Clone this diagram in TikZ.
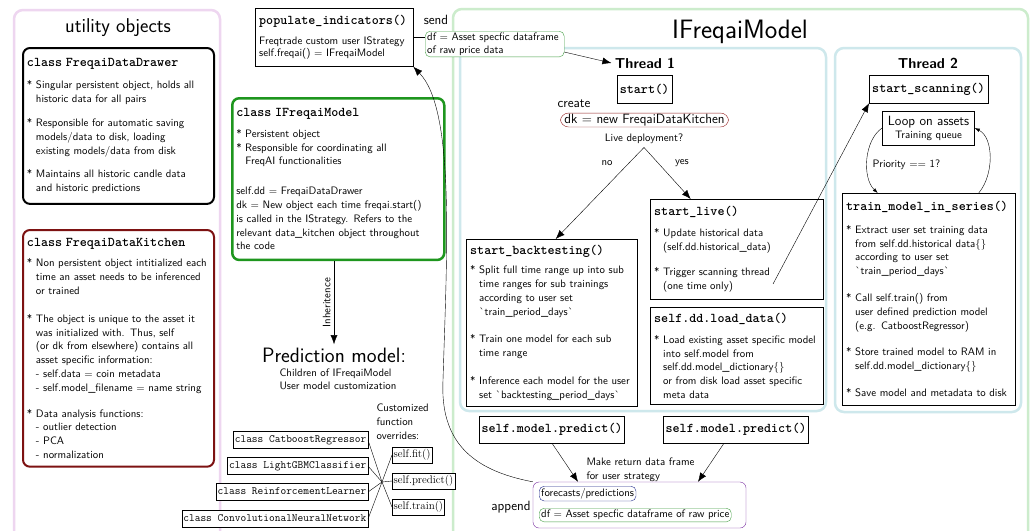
\documentclass[tikz,border=0pt]{standalone}
\usetikzlibrary{arrows.meta}
\renewcommand{\familydefault}{\sfdefault}
\definecolor{utilpink}{RGB}{238,214,240}
\definecolor{modelgreen}{RGB}{204,236,204}
\definecolor{threadblue}{RGB}{206,232,236}
\definecolor{classgreen}{RGB}{30,150,30}
\definecolor{kitchenred}{RGB}{125,18,18}
\definecolor{dkred}{RGB}{150,35,35}
\definecolor{dfgreen}{RGB}{70,160,70}
\definecolor{outpurple}{RGB}{120,45,160}
\definecolor{forecastblue}{RGB}{35,45,140}
\newcommand{\bodyfont}{\fontsize{10.8}{13.8}\selectfont}
\newcommand{\tagfont}{\fontsize{13.4}{15}\selectfont}
\newcommand{\titlett}{\ttfamily\bfseries\fontsize{13.4}{15}\selectfont}
\newcommand{\smalltt}{\ttfamily\fontsize{11.1}{13}\selectfont}
\newcommand{\smallrm}{\rmfamily\fontsize{11}{13}\selectfont}
\newcommand{\cont}{\hphantom{*\ }}
\newcommand{\btick}{\textasciigrave}
\begin{document}
\begin{tikzpicture}[x=1pt, y=-1pt, >={Latex[length=9pt,width=7pt]},
  panel/.style={line width=2.5pt, rounded corners=9pt},
  infobox/.style={draw, fill=white, anchor=north west, align=left, font=\bodyfont, inner xsep=4pt, inner ysep=7pt},
  heavybox/.style={infobox, line width=2pt, rounded corners=7pt},
  plainbox/.style={draw, fill=white, font=\titlett, inner xsep=3pt, minimum height=28pt},
  modelbox/.style={draw, fill=white, font=\smalltt, inner xsep=1.5pt, inner ysep=4pt, text height=7pt, text depth=2pt, anchor=east},
  overridebox/.style={draw, fill=white, font=\smallrm, inner xsep=1.5pt, inner ysep=3pt, text height=8pt, text depth=2.5pt, anchor=west},
  pill/.style={draw, fill=white, rounded corners=5pt, font=\bodyfont, anchor=north west, inner xsep=2pt, inner ysep=2pt},
  tag/.style={font=\tagfont},
  note/.style={font=\bodyfont, align=left}]

\useasboundingbox (0,0) rectangle (1033,530);
\clip (0,0) rectangle (1033,530);
\fill[white] (0,0) rectangle (1033,530);

% panels
\draw[panel, utilpink] (14,10) rectangle (220,560);
\draw[panel, modelgreen] (453,9) rectangle (1028,560);
\draw[panel, threadblue] (460,48) rectangle (826,411);
\draw[panel, threadblue] (835,48) rectangle (1021,412);

\node[font=\fontsize{20}{24}\selectfont] (utiltitle) at (118,28) {utility objects};
\node[font=\fontsize{26.6}{30}\selectfont] (modeltitle) at (740,32) {IFreqaiModel};
\node[font=\bfseries\fontsize{14.4}{16}\selectfont] (thread1) at (645,63) {Thread 1};
\node[font=\bfseries\fontsize{14.4}{16}\selectfont] (thread2) at (928,63) {Thread 2};

% utility objects
\node[heavybox, inner ysep=10pt, text width=183pt] (drawer) at (22,47) {{\titlett class FreqaiDataDrawer}\\[9pt]
  * Singular persistent object, holds all\\
  \cont historic data for all pairs\\[10pt]
  * Responsible for automatic saving\\
  \cont models/data to disk, loading\\
  \cont existing models/data from disk\\[10pt]
  * Maintains all historic candle data\\
  \cont and historic predictions};
\node[heavybox, draw=kitchenred, inner ysep=8pt, text width=183pt] (kitchen) at (22,229) {{\titlett class FreqaiDataKitchen}\\[7pt]
  * Non persistent object intitialized each\\
  \cont time an asset needs to be inferenced\\
  \cont or trained\\[14pt]
  * The object is unique to the asset it\\
  \cont was initialized with. Thus, self\\
  \cont (or dk from elsewhere) contains all\\
  \cont asset specific information:\\
  \cont - self.data = coin metadata\\
  \cont - self.model\_filename = name string\\[12pt]
  * Data analysis functions:\\
  \cont - outlier detection\\
  \cont - PCA\\
  \cont - normalization};

% strategy side
\node[infobox, font=\fontsize{10.8}{12.7}\selectfont, text width=150pt] (populate) at (255,8) {{\titlett populate\_indicators()}\\[7pt]
  Freqtrade custom user IStrategy\\
  self.freqai() = IFreqaiModel};
\node[heavybox, draw=classgreen, line width=2.5pt, inner ysep=10pt, text width=204pt] (imodel) at (231,97) {{\titlett class IFreqaiModel}\\[7pt]
  * Persistent object\\
  {*} Responsible for coordinating all\\
  \cont FreqAI functionalities\\[16pt]
  self.dd = FreqaiDataDrawer\\
  dk = New object each time freqai.start()\\
  is called in the IStrategy. Refers to the\\
  relevant data\_kitchen object throughout\\
  the code};

\node[tag] (sendlbl) at (436,20) {send};
\node[pill, draw=dfgreen, inner ysep=1.5pt, text width=135pt, align=left, font=\fontsize{10.8}{13}\selectfont] (dfsend) at (425,31) {df = Asset specfic dataframe\\of raw price data};
\draw (populate.east) -- (dfsend.west |- populate.east);
\draw[->] ([yshift=-8pt]dfsend.east) -- (thread1.west);

\node[font=\fontsize{20.8}{24}\selectfont] (predtitle) at (334,355) {Prediction model:};
\draw[->] (predtitle.north |- imodel.south) -- (predtitle.north) node[midway, rotate=90, anchor=south, font=\bodyfont] {Inheritence};
\node[note, anchor=north west, font=\fontsize{10.8}{13}\selectfont] (predsub) at (276,365) {Children of IFreqaiModel\\User model customization};
\node[note, anchor=north west, font=\fontsize{10.8}{14}\selectfont] (custlbl) at (373,400) {Customized\\function\\overrides:};

\foreach \cls/\yy [count=\i] in {CatboostRegressor/440, LightGBMClassifier/466, ReinforcementLearner/492, ConvolutionalNeuralNetwork/519}
  \node[modelbox] (cls\i) at (368,\yy) {class \cls};
\foreach \fn/\yy [count=\j] in {fit/455, predict/481, train/507}
  \node[overridebox] (fn\j) at (392,\yy) {self.\fn()};
\coordinate (hub) at (382,482);
\foreach \i in {1,...,4} \draw (cls\i.east) -- (hub);
\foreach \j in {1,2,3} \draw (hub) -- (fn\j.west);

% thread 1
\node[plainbox] (start) at (644.5,89) {start()};
\node[tag] (createlbl) at (574,104) {create};
\node[draw=dkred, fill=white, rounded corners=8pt, font=\tagfont, inner xsep=4pt, inner ysep=1pt] (dk) at (644.5,120) {dk = new FreqaiDataKitchen};
\node[note] (livelbl) at (644,139) {Live deployment?};
\node[note] (nolbl) at (607,163) {no};
\node[note] (yeslbl) at (682,163) {yes};

\node[infobox, inner ysep=6pt, text width=163pt] (backtest) at (466,239) {{\titlett start\_backtesting()}\\[5.5pt]
  * Split full time range up into sub\\
  \cont time ranges for sub trainings\\
  \cont according to user set\\
  \cont \btick train\_period\_days\btick\\[14pt]
  * Train one model for  each sub\\
  \cont time range\\[14pt]
  * Inference each model for the user\\
  \cont set \btick backtesting\_period\_days\btick};
\node[infobox, text width=165pt] (startlive) at (650,199) {{\titlett start\_live()}\\[7pt]
  * Update historical data\\
  \cont (self.dd.historical\_data)\\[12pt]
  * Trigger scanning thread\\
  \cont (one time only)};
\node[infobox, inner ysep=6pt, text width=165pt] (loaddata) at (650,307) {{\titlett self.dd.load\_data()}\\[7pt]
  * Load existing asset specific model\\
  \cont into self.model from\\
  \cont self.dd.model\_dictionary\{\}\\
  \cont or from disk load asset specific\\
  \cont meta data};
\draw[->] (livelbl.south) -- ([xshift=4pt]backtest.north);
\draw[->] (livelbl.south) -- ([xshift=-46pt]startlive.north);

% thread 2
\node[plainbox] (startscan) at (928.5,89) {start\_scanning()};
\node[draw, fill=white, align=center, font=\tagfont, inner xsep=5.5pt, minimum height=34pt] (loop) at (928.5,128) {Loop on assets\\[-2pt]{\bodyfont Training queue}};
\node[note, anchor=west] (prio) at (869,165) {Priority == 1?};
\node[infobox, inner ysep=8pt, text width=165pt] (train) at (842,193) {{\titlett train\_model\_in\_series()}\\[9pt]
  * Extract user set training data\\
  \cont from self.dd.historical data\{\}\\
  \cont according to user set\\
  \cont \btick train\_period\_days\btick\\[13pt]
  * Call self.train() from\\
  \cont user defined prediction model\\
  \cont (e.g. CatboostRegressor)\\[13pt]
  * Store trained model to RAM in\\
  \cont self.dd.model\_dictionary\{\}\\[13pt]
  * Save model and metadata to disk};
\draw[-{Latex[length=5pt,width=3.5pt]}] (loop.west) .. controls (864,140) and (862,178) .. ([xshift=-51pt]train.north);
\draw[-{Latex[length=5pt,width=3.5pt]}] ([xshift=50pt]train.north) .. controls (994,175) and (994,138) .. (loop.east);
\coordinate (trigger) at (773,284);
\draw[->] (trigger) -- (startscan.south west);

% predictions back to the strategy
\node[plainbox, minimum height=27pt, inner xsep=2pt] (predictA) at (552,429.5) {self.model.predict()};
\node[plainbox, minimum height=27pt, inner xsep=2pt] (predictB) at (736,429.5) {self.model.predict()};
\node[note, anchor=north west, font=\fontsize{10.8}{14}\selectfont] (makelbl) at (583,454) {Make return data frame\\for user strategy};
\node[draw=outpurple, fill=white, rounded corners=6pt, minimum width=213pt, minimum height=46pt] (outbox) at (639.5,505) {};
\node[pill, draw=forecastblue] (forecasts) at (539,486) {forecasts/predictions};
\node[pill, draw=dfgreen] (dfout) at (539,508) {df = Asset specfic dataframe of raw price};
\node[tag] (appendlbl) at (511,507) {append};
\draw[->] (predictA.south) -- ([xshift=-61.5pt]outbox.north);
\draw[->] ([xshift=-12pt]predictB.south) -- ([xshift=58.5pt]outbox.north);
\draw[->] (outbox.north west) .. controls (470,470) and (440,440) .. (443,380) .. controls (447,250) and (455,110) .. (populate.south east);
\end{tikzpicture}
\end{document}
